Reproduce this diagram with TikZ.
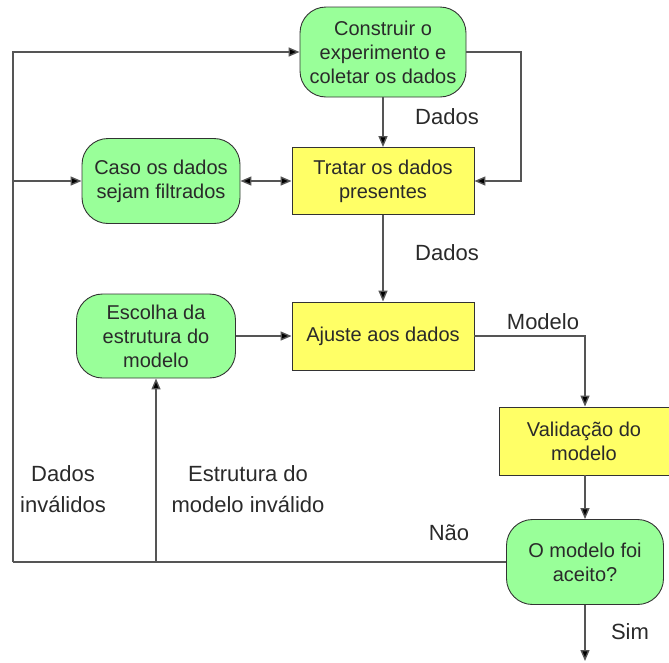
\documentclass[tikz,border=0pt]{standalone}
\usepackage{fontspec}
\setmainfont{Liberation Sans}
\usetikzlibrary{arrows.meta,positioning}
\definecolor{boxgreen}{HTML}{99FF99}
\definecolor{boxyellow}{HTML}{FFFF66}
\definecolor{linegray}{HTML}{555555}
\definecolor{txt}{HTML}{2A2A2A}
\tikzset{
  greenbox/.style={draw=black!80, line width=0.9pt, fill=boxgreen, rounded corners=26pt,
    align=center, font=\fontsize{20}{24}\selectfont, text=txt, inner sep=0pt},
  yellowbox/.style={draw=black!80, line width=0.9pt, fill=boxyellow,
    align=center, font=\fontsize{20}{24}\selectfont, text=txt, inner sep=0pt},
  conn/.style={draw=linegray, line width=1.4pt, -{Triangle[length=11pt,width=9pt,fill=black]}},
  plain/.style={draw=linegray, line width=1.4pt},
  lbl/.style={font=\fontsize{22}{31}\selectfont, text=txt, align=center, inner sep=0pt}
}
\begin{document}
\begin{tikzpicture}[x=1pt,y=-1pt]
\useasboundingbox (0,0) rectangle (669,662);
% nodes
\node[greenbox, minimum width=166pt, minimum height=90pt] (construir) at (383,52) {Construir o\\experimento e\\coletar os dados};
\node[yellowbox, minimum width=182pt, minimum height=67pt] (tratar) at (383,181) {Tratar os dados\\presentes};
\node[greenbox, minimum width=158pt, minimum height=85pt] (caso) at (161,181) {Caso os dados\\sejam filtrados};
\node[greenbox, minimum width=159pt, minimum height=84pt] (escolha) at (156,336) {Escolha da\\estrutura do\\modelo};
\node[yellowbox, minimum width=182pt, minimum height=68pt] (ajuste) at (383,336) {Ajuste aos dados};
\node[yellowbox, minimum width=170pt, minimum height=68pt] (valid) at (584,441) {Validação do\\modelo};
\node[greenbox, minimum width=157pt, minimum height=85pt] (aceito) at (585,562) {O modelo foi\\aceito?};
% helper coordinates
\coordinate (bl) at (13,562);
\coordinate (tr) at (521,52);
\coordinate (fim) at (585,661);
% connectors
\draw[plain] (aceito.west) -- (bl);
\draw[conn] (bl) |- (construir.west);
\draw[conn] (bl |- caso.west) -- (caso.west);
\draw[conn] (construir.south) -- (tratar.north);
\draw[conn] (construir.east) -- (tr) |- (tratar.east);
\draw[conn, {Triangle[length=11pt,width=9pt,fill=black]}-{Triangle[length=11pt,width=9pt,fill=black]}] (caso.east) -- (tratar.west);
\draw[conn] (tratar.south) -- (ajuste.north);
\draw[conn] (escolha.east) -- (ajuste.west);
\draw[conn] (ajuste.east) -| (aceito.north |- valid.north);
\draw[conn] (aceito.north |- valid.south) -- (aceito.north);
\draw[conn] (escolha.south |- bl) -- (escolha.south);
\draw[conn] (aceito.south) -- (fim);
% labels
\node[lbl] (l1) at (447,117) {Dados};
\node[lbl] (l2) at (447,253) {Dados};
\node[lbl] (l3) at (543,322) {Modelo};
\node[lbl] (l4) at (63,489) {Dados\\inválidos};
\node[lbl] (l5) at (248,489) {Estrutura do\\modelo inválido};
\node[lbl] (l6) at (449,533) {Não};
\node[lbl] (l7) at (630,632) {Sim};
\end{tikzpicture}
\end{document}
